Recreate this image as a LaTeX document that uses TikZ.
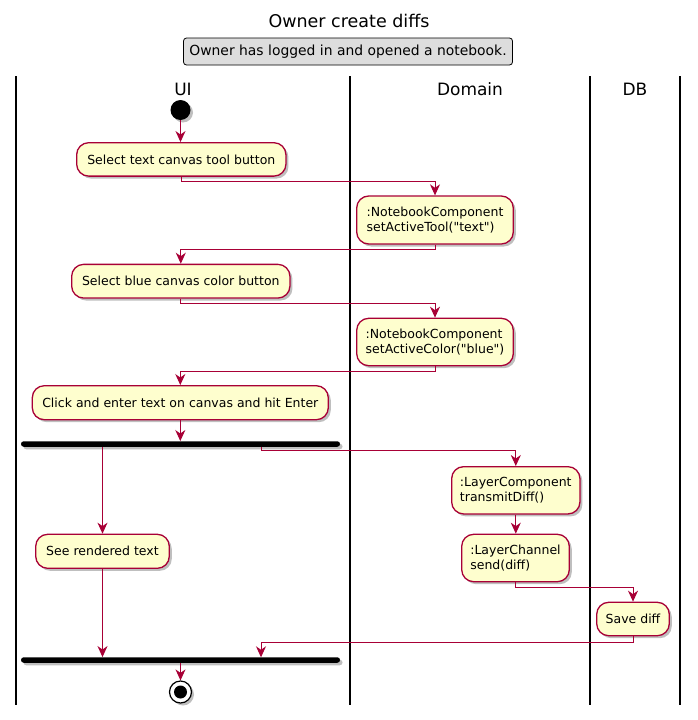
\documentclass[tikz,border=0pt]{standalone}
\usepackage{fontspec}
\setmainfont{DejaVu Sans}[Ligatures=TeXOff]
\usetikzlibrary{shadows,arrows.meta,calc}
\definecolor{umlred}{HTML}{A80036}
\definecolor{umlfill}{HTML}{FEFECE}
\definecolor{notefill}{HTML}{DDDDDD}
\begin{document}
\begin{tikzpicture}[x=1pt,y=-1pt,
  shad/.style={drop shadow={shadow xshift=2.5pt,shadow yshift=-2.5pt,opacity=0.25,fill=black}},
  act/.style={draw=umlred,fill=umlfill,line width=1.3pt,rounded corners=12pt,inner sep=0pt,
    font=\fontsize{12.5}{14.7}\selectfont,shad},
  bar/.style={fill=black,rounded corners=2.7pt,minimum height=5.5pt,minimum width=319pt,inner sep=0pt,shad},
  flow/.style={draw=umlred,line width=1pt,-{Stealth[length=11pt,width=10pt,inset=3.5pt]}},
  lane/.style={line width=1.5pt,black},
  lanetitle/.style={anchor=base,font=\fontsize{17}{20}\selectfont},
  notebox/.style={draw=black,fill=notefill,line width=0.8pt,rounded corners=3pt,inner sep=0pt,
    minimum width=329pt,minimum height=27pt,font=\fontsize{13.9}{16}\selectfont}
]
\useasboundingbox (0,0) rectangle (698,720);
\fill[white] (0,0) rectangle (698,720);

% title and note
\node[anchor=base,font=\fontsize{17.5}{20}\selectfont] (title) at (349,27.5) {Owner create diffs};
\node[notebox] (note) at (348,51.5) {Owner has logged in and opened a notebook.};

% swimlanes
\draw[lane] (16,76) -- (16,705);
\draw[lane] (350,76) -- (350,705);
\draw[lane] (590,76) -- (590,705);
\draw[lane] (680,76) -- (680,705);
\node[lanetitle] (lui) at (183,95) {UI};
\node[lanetitle] (ldom) at (470,95) {Domain};
\node[lanetitle] (ldb) at (635,95) {DB};

% start
\node[circle,fill=black,minimum size=20pt,inner sep=0pt,shad] (s) at (180.5,110) {};

% activities
\node[act,minimum width=209.3pt,minimum height=33.4pt] (n1) at (181.3,159.4) {Select text canvas tool button};
\node[act,minimum width=156.6pt,minimum height=48pt,align=left] (n2) at (435,220) {:NotebookComponent\\setActiveTool("text")};
\node[act,minimum width=218.3pt,minimum height=33.7pt] (n3) at (180.8,281.2) {Select blue canvas color button};
\node[act,minimum width=156.6pt,minimum height=47.4pt,align=left] (n4) at (435,342) {:NotebookComponent\\setActiveColor("blue")};
\node[act,minimum width=296pt,minimum height=34pt] (n5) at (180.3,402.7) {Click and enter text on canvas and hit Enter};
\node[bar] (fork) at (180.5,444) {};
\node[act,minimum width=133.6pt,minimum height=34pt] (n6) at (102.5,551.3) {See rendered text};
\node[act,minimum width=128.3pt,minimum height=47.3pt,align=left] (n7) at (515.8,490.3) {:LayerComponent\\transmitDiff()};
\node[act,minimum width=107.6pt,minimum height=47.4pt,align=left] (n8) at (515.5,558) {:LayerChannel\\send(diff)};
\node[act,minimum width=72.6pt,minimum height=33.4pt] (n9) at (633,619) {Save diff};
\node[bar] (join) at (180.5,660) {};

% end
\node[circle,draw=black,fill=white,line width=1.2pt,minimum size=22pt,inner sep=0pt,shad] (e) at (180.5,692) {};
\node[circle,fill=black,minimum size=13pt,inner sep=0pt] (ein) at (e.center) {};

\coordinate (f2) at (261,446.7);
\coordinate (j2) at (261,657.3);

% connectors
\draw[flow] (s.south) -- (s.south |- n1.north);
\draw[flow] (n1.south) -- ++(0,5) -| (n2.north);
\draw[flow] (n2.south) -- ++(0,5) -| (n3.north);
\draw[flow] (n3.south) -- ++(0,5) -| (n4.north);
\draw[flow] (n4.south) -- ++(0,5) -| (n5.north);
\draw[flow] (n5.south) -- (n5.south |- fork.north);
\draw[flow] (n6.north |- fork.south) -- (n6.north);
\draw[flow] (f2) -- ++(0,3.5) -| (n7.north);
\draw[flow] (n7.south) -- (n7.south |- n8.north);
\draw[flow] (n8.south) -- ++(0,5) -| (n9.north);
\draw[flow] (n9.south) -- ++(0,6.5) -| (j2);
\draw[flow] (n6.south) -- (n6.south |- join.north);
\draw[flow] (join.south -| e) -- (e.north);
\end{tikzpicture}
\end{document}
